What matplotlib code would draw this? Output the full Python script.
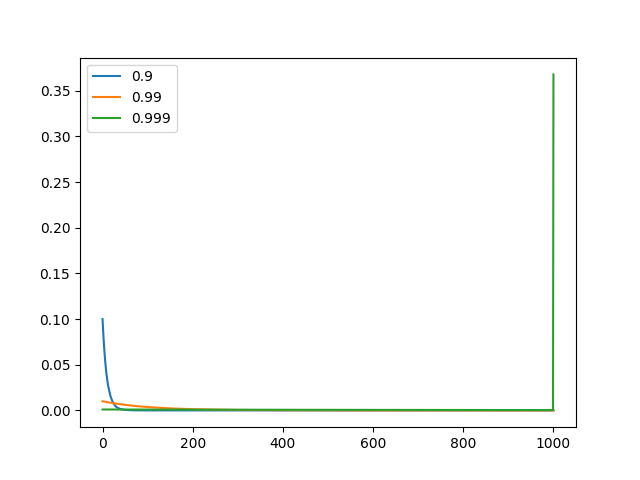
import matplotlib
matplotlib.use("Agg")
import matplotlib.pyplot as plt

x_09 = [0, 2, 4, 6, 8, 10, 12, 15, 18, 21, 25, 30, 35, 40, 50, 70, 100, 999, 1000]
y_09 = [0.100, 0.081, 0.066, 0.053, 0.043, 0.035, 0.028, 0.021, 0.015, 0.011,
        0.007, 0.004, 0.0025, 0.0015, 0.0005, 0.0001, 0.0, 0.0, 0.0]

x_099 = [0, 25, 50, 75, 100, 150, 200, 300, 400, 600, 999, 1000]
y_099 = [0.010, 0.0078, 0.0061, 0.0047, 0.0037, 0.0022, 0.0013, 0.0005,
         0.0002, 0.00002, 0.0, 0.0]

x_0999 = [0, 250, 500, 750, 999, 1000]
y_0999 = [0.0010, 0.00078, 0.00061, 0.00047, 0.00037, 0.368]

labels = ["0.9", "0.99", "0.999"]

fig, ax = plt.subplots(figsize=(6.4, 4.8), dpi=100)
ax.plot(x_09, y_09, label=labels[0])
ax.plot(x_099, y_099, label=labels[1])
ax.plot(x_0999, y_0999, label=labels[2])
ax.legend(loc="upper left")

plt.savefig("out.png", dpi=100)
